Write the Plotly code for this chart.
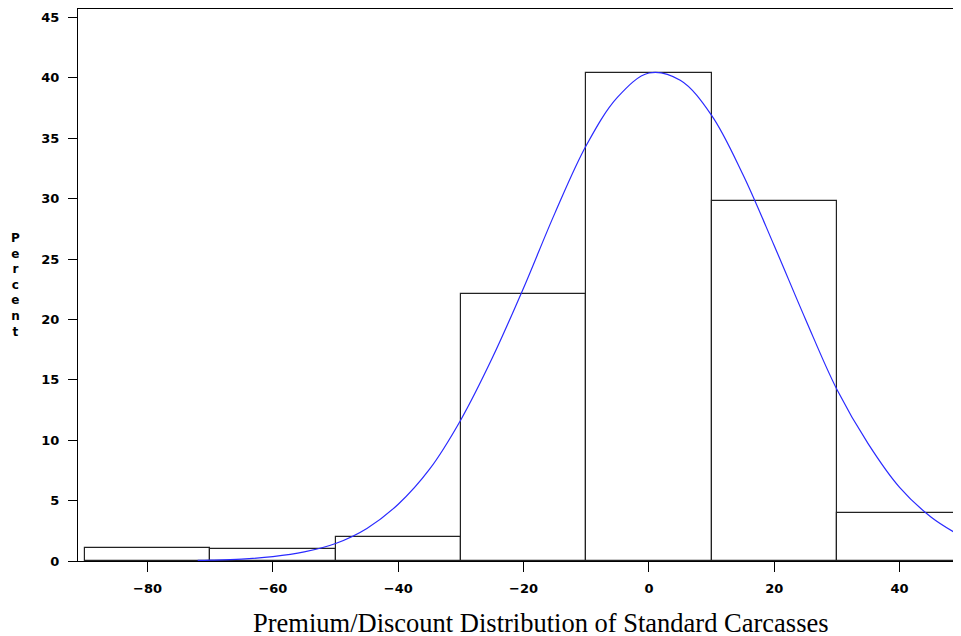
import plotly.graph_objects as go

# Histogram bins (midpoints) and percent heights
bin_mid = [-80, -60, -40, -20, 0, 20, 40]
bin_pct = [1.05, 1.0, 1.95, 22.1, 40.4, 29.8, 3.95]
bin_width = 20

# Fitted normal curve
curve_x = [-72, -70, -65, -60, -55, -50, -45, -40, -35, -30, -25, -20, -15, -10,
           -5, 0, 5, 10, 15, 20, 25, 30, 35, 40, 45, 50]
curve_y = [0.05, 0.07, 0.16, 0.36, 0.75, 1.45, 2.7, 4.7, 7.6, 11.7, 16.8, 22.6, 28.8, 34.4,
           38.4, 40.4, 39.8, 36.9, 32.0, 26.1, 20.0, 14.2, 9.7, 6.1, 3.65, 2.0]

x_ticks = [-80, -60, -40, -20, 0, 20, 40]
y_ticks = [0, 5, 10, 15, 20, 25, 30, 35, 40, 45]

tick_font = dict(family="DejaVu Sans", size=13, color="black", weight="bold")

fig = go.Figure()
fig.add_trace(go.Bar(
    x=bin_mid, y=bin_pct, width=[bin_width] * len(bin_mid),
    marker=dict(color="white", line=dict(color="#222222", width=1.2)),
    hoverinfo="skip", showlegend=False,
))
fig.add_trace(go.Scatter(
    x=curve_x, y=curve_y, mode="lines", line=dict(color="#2a2aff", width=1.2, shape="spline"),
    hoverinfo="skip", showlegend=False,
))

fig.update_layout(
    width=953, height=628,
    margin=dict(l=70, r=0, t=1, b=75),
    paper_bgcolor="white", plot_bgcolor="white",
    bargap=0,
    xaxis=dict(
        range=[-91.1, 49.8], tickvals=x_ticks, ticks="outside", ticklen=10,
        tickcolor="black", tickwidth=1.2, showline=True, linecolor="black", linewidth=1.2,
        mirror=True, showgrid=False, zeroline=False, tickfont=tick_font,
        ticklabelstandoff=5,
    ),
    yaxis=dict(
        range=[0, 45.7], tickvals=y_ticks, ticks="outside", ticklen=9,
        tickcolor="black", tickwidth=1.2, showline=True, linecolor="black", linewidth=1.2,
        showgrid=False, zeroline=False, tickfont=tick_font, ticklabelstandoff=6,
    ),
    annotations=[
        dict(text="P<br>e<br>r<br>c<br>e<br>n<br>t", xref="paper", yref="paper",
             x=0, xshift=-63, y=0.5, showarrow=False, xanchor="center", yanchor="middle",
             font=dict(family="DejaVu Sans", size=12, color="black", weight="bold")),
        dict(text="Premium/Discount Distribution of Standard Carcasses", xref="paper", yref="paper",
             x=0.5243, y=0, yshift=-62, showarrow=False, xanchor="center", yanchor="middle",
             font=dict(family="Liberation Serif", size=26.5, color="black")),
    ],
)

fig.write_html("out.html")
